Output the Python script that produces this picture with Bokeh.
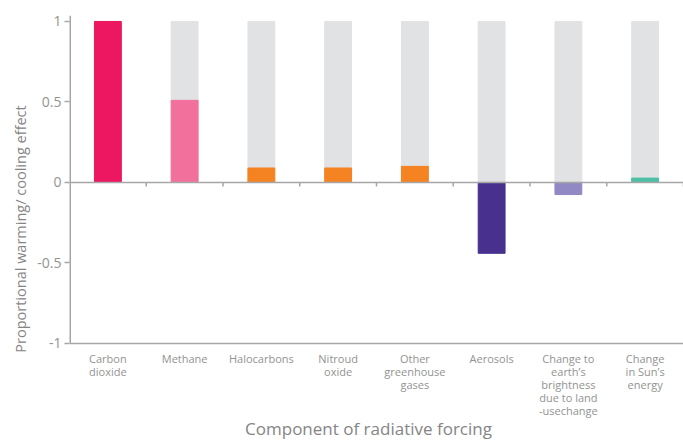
from bokeh.plotting import figure
from bokeh.models import ColumnDataSource, FixedTicker, Span, Title
from bokeh.core.properties import value
from bokeh.embed import file_html
from bokeh.resources import INLINE

categories = ["Carbon\ndioxide", "Methane", "Halocarbons", "Nitroud\noxide",
              "Other\ngreenhouse\ngases", "Aerosols",
              "Change to\nearth\u2019s\nbrightness\ndue to land\n-usechange",
              "Change\nin Sun\u2019s\nenergy"]
values = [1.0, 0.51, 0.09, 0.09, 0.10, -0.44, -0.075, 0.027]
background = [1, 1, 1, 1, 1, 1, 1, 1]
colors = ["#ED1660", "#F2709C", "#F58322", "#F58322", "#F58322", "#48308E", "#9089C4", "#4DBFA5"]
y_ticks = [-1, -0.5, 0, 0.5, 1]
y_tick_labels = ["-1", "-0.5", "0", "0.5", "1"]
x_title = "Component of radiative forcing"
y_title = "Proportional warming/ cooling effect"

FONT = "Open Sans"
GREY_TXT = "#939393"
TITLE_TXT = "#858585"
AXIS = "#A6A6A6"

n = len(categories)
y_min, y_max = y_ticks[0], y_ticks[-1]
xs = [i + 0.5 for i in range(n)]
src = ColumnDataSource(dict(x=xs, v=values, bg=background, c=colors,
                            lab=categories, ly=[y_min] * n))

p = figure(width=683, height=442, x_range=(0, n), y_range=(-1.615, 1.037),
           output_backend="svg", toolbar_location=None,
           min_border_left=69, min_border_right=0, min_border_top=15, min_border_bottom=0)
p.outline_line_color = None
p.grid.visible = False
p.xaxis.visible = False

p.vbar(x="x", top="bg", bottom=0, width=0.35, color="#E1E2E4", source=src)
p.vbar(x="x", top="v", bottom=0, width=0.35, color="c", source=src)

# zero line with boundary ticks, bottom line, left axis line
p.add_layout(Span(location=0, dimension="width", line_color=AXIS, line_width=1.5))
bx = [i + 1 for i in range(n)]
p.segment(x0=bx, x1=bx, y0=[0] * n, y1=[-0.025] * n, line_color=AXIS, line_width=1.5)
p.segment(x0=[0], x1=[n], y0=[y_min], y1=[y_min], line_color=AXIS, line_width=1.5)
p.segment(x0=[0], x1=[0], y0=[y_min], y1=[1.037], line_color=AXIS, line_width=3)

# category labels
p.text(x="x", y="ly", text="lab", source=src, y_offset=8,
       text_align="center", text_baseline="top",
       text_font=value(FONT), text_font_size="11px", text_color=GREY_TXT,
       text_line_height=0.86)

# x title
p.text(x=[n / 2], y=[y_min], text=[x_title], x_offset=-8, y_offset=85,
       text_align="center", text_baseline="middle",
       text_font=value(FONT), text_font_size="17px", text_color=TITLE_TXT)

# y axis
ya = p.yaxis[0]
ya.ticker = FixedTicker(ticks=y_ticks)
ya.major_label_overrides = {t: l for t, l in zip(y_ticks, y_tick_labels)}
ya.minor_tick_line_color = None
ya.major_tick_in = 0
ya.major_tick_out = 5
ya.major_tick_line_color = AXIS
ya.major_tick_line_width = 1.5
ya.axis_line_color = None
ya.major_label_text_font = FONT
ya.major_label_text_font_size = "14px"
ya.major_label_text_color = GREY_TXT
ya.major_label_standoff = 3

yt = Title(text=y_title, align="center", offset=58,
           text_font=FONT, text_font_size="14.5px", text_font_style="normal",
           text_color=TITLE_TXT)
p.add_layout(yt, "left")

open("out.html", "w").write(file_html(p, INLINE))
